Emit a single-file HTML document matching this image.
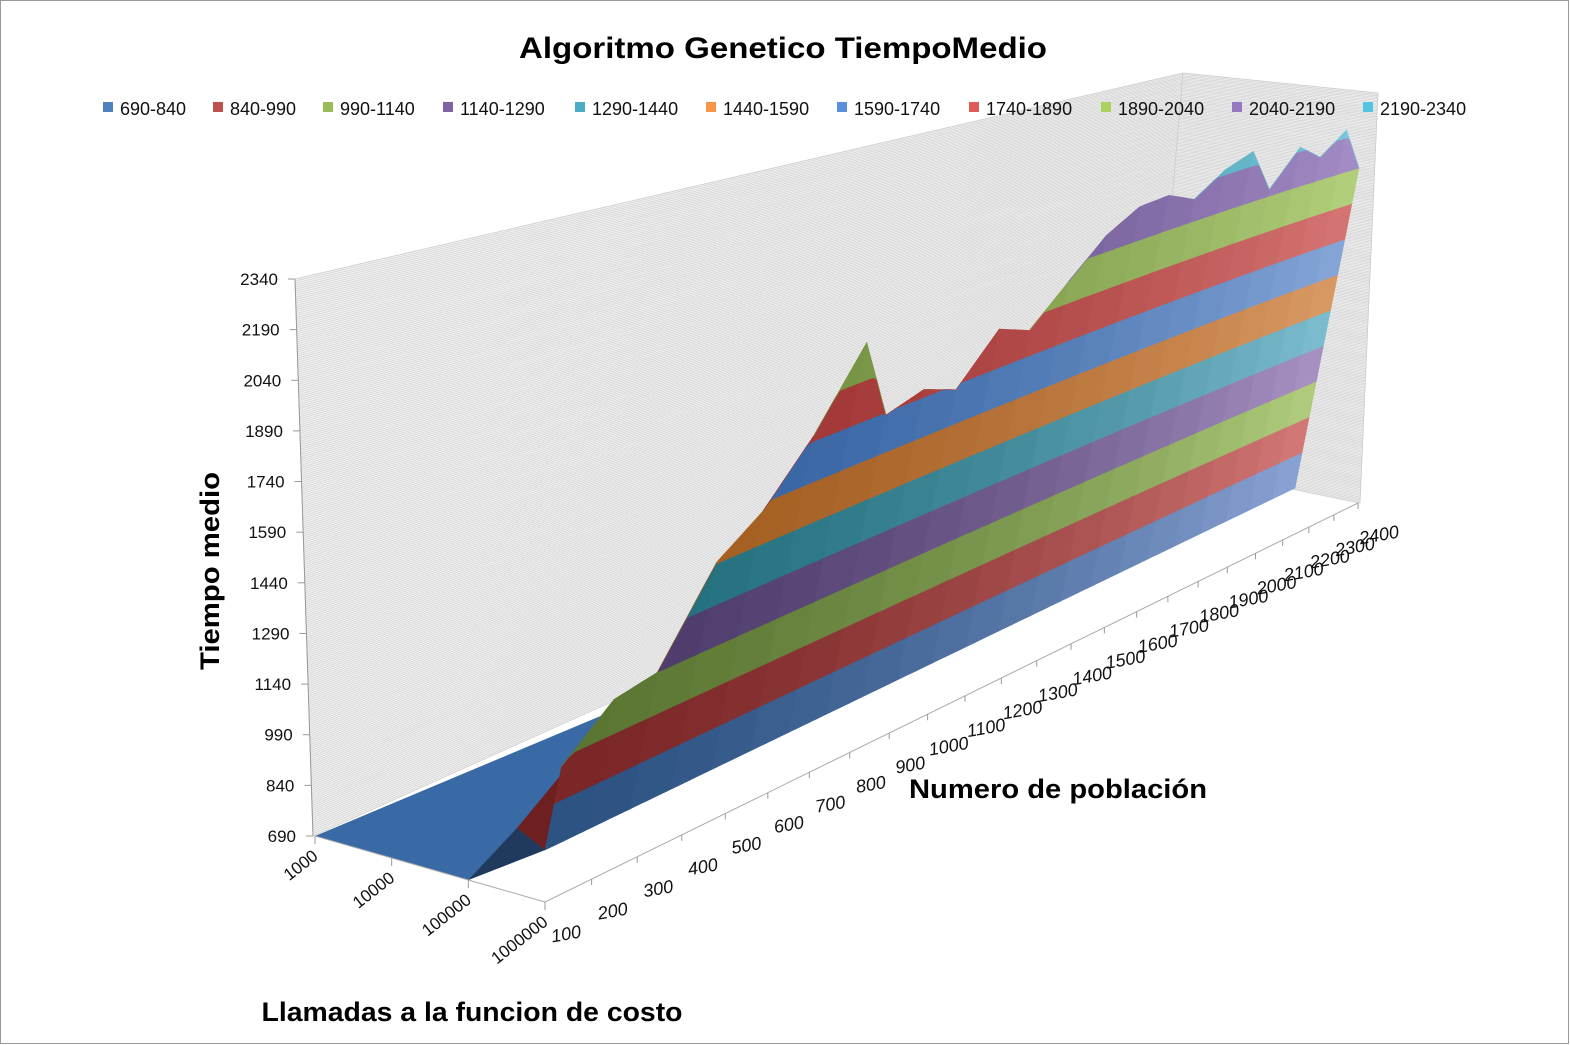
<!DOCTYPE html>
<html><head><meta charset="utf-8">
<style>
html,body{margin:0;padding:0;background:#fff;}
svg{display:block;font-family:"Liberation Sans",sans-serif;}
</style></head>
<body>
<svg id="chart" width="1570" height="1045" viewBox="0 0 1570 1045" xmlns="http://www.w3.org/2000/svg">
<rect x="0.5" y="0.5" width="1568" height="1043" fill="#fff" stroke="#9a9a9a"/>
<g id="walls"></g>
<g id="axes"></g>
<g id="surface"></g>
<text x="783" y="58" text-anchor="middle" font-size="30" font-weight="bold" textLength="528" lengthAdjust="spacingAndGlyphs">Algoritmo Genetico TiempoMedio</text>
<g id="legend"></g>
<text transform="translate(219,571) rotate(-90)" text-anchor="middle" font-size="27" font-weight="bold" textLength="198" lengthAdjust="spacingAndGlyphs">Tiempo medio</text>
<text x="1058" y="798" text-anchor="middle" font-size="27" font-weight="bold" textLength="298" lengthAdjust="spacingAndGlyphs">Numero de población</text>
<text x="472" y="1021" text-anchor="middle" font-size="27" font-weight="bold" textLength="421" lengthAdjust="spacingAndGlyphs">Llamadas a la funcion de costo</text>
</svg>
<script>
const populations = ["100","200","300","400","500","600","700","800","900","1000","1100","1200","1300","1400","1500","1600","1700","1800","1900","2000","2100","2200","2300","2400"];
const tiempoMedio = [960,1113,1140,1444,1560,1760,2030,1730,1770,1720,1890,1840,1975,2105,2175,2181,2130,2211,2251,2068,2209,2139,2225,2040];
const llamadas = ["1000","10000","100000","1000000"];
const valueTicks = [690,840,990,1140,1290,1440,1590,1740,1890,2040,2190,2340];
const legendLabels = ["690-840","840-990","990-1140","1140-1290","1290-1440","1440-1590","1590-1740","1740-1890","1890-2040","2040-2190","2190-2340"];
const legendColors = ["#4f81bd","#c0504d","#9bbb59","#8064a2","#4bacc6","#f79646","#5b8fd9","#e05a57","#a9d25f","#9478c0","#52c4df"];
const bandDark = ["#2c5282","#7a2626","#5a7532","#4a3868","#1f6c7a","#a05a1e","#2f5f9e","#9a2e2e","#6c8a3a","#5a4580","#2a8090"];
const bandLight = ["#8aa3d4","#d47a78","#b0cc7c","#a893c4","#7dbdd0","#da9a64","#86a6d8","#d67674","#b3d07c","#a58ec8","#7ccbe0"];

const NS = "http://www.w3.org/2000/svg";
const VMIN = 690, VMAX = 2340, N = populations.length;

function persp(t){ return 1.333*t - 0.333*t*t; }
function baseP(i){ const g = persp(i/(N-1)); return [545 + 750*g, 850 - 362*g]; }
function kz(i){ return 0.31 - 0.073*i/(N-1); }
function surfP(i, v){ const b = baseP(i); const h = (v - VMIN)*kz(i); return [b[0] + 0.2*h, b[1] - h]; }
function popTick(i){ const g = persp(i/(N-1)); return [545 + 813*g, 902 - 399*g]; }
function valP(v){ const f = (v - VMIN)/(VMAX - VMIN); return [313 - 18*f, 836 - 557*f]; }
function valR(v){ const f = (v - VMIN)/(VMAX - VMIN); return [1150 + 33*f, 460 - 387*f]; }
function depthP(j){ const f = j/(llamadas.length-1); return [315 + 230*f, 836 + 66*f]; }

function el(tag, attrs, parent){ const e = document.createElementNS(NS, tag); for (const k in attrs) e.setAttribute(k, attrs[k]); parent.appendChild(e); return e; }
function hex(c){ return [parseInt(c.slice(1,3),16),parseInt(c.slice(3,5),16),parseInt(c.slice(5,7),16)]; }
function mix(a,b,t){ const A=hex(a),B=hex(b); return "rgb("+A.map((x,k)=>Math.round(x+(B[k]-x)*t)).join(",")+")"; }
function pts(a){ return a.map(p=>p[0].toFixed(1)+","+p[1].toFixed(1)).join(" "); }

const walls = document.getElementById("walls");
const back = el("polygon", {points: pts([valP(VMAX), valR(VMAX), valR(VMIN), valP(VMIN)]), fill:"#f1f1f1", stroke:"#c8c8c8", "stroke-width":"0.8"}, walls);


const rightWall = el("polygon", {points: pts([valR(VMAX), [1378,93], [1360,503], valR(VMIN)]), fill:"#f1f1f1", stroke:"#c8c8c8", "stroke-width":"0.8"}, walls);


for (let v = VMIN; v <= VMAX; v += 6) {
  const a = valP(v), b = valR(v);
  const ln = el("line", {x1:a[0], y1:a[1], x2:b[0], y2:b[1], stroke:"#d2d2d2", "stroke-width":"0.7"}, walls);
  
  
  const f = (v - VMIN)/(VMAX - VMIN);
  const c = [1360 + 18*f, 503 - 410*f];
  const ln2 = el("line", {x1:b[0], y1:b[1], x2:c[0], y2:c[1], stroke:"#d2d2d2", "stroke-width":"0.7"}, walls);
  
  
}

const floor = el("polygon", {points: pts([depthP(0), depthP(2), [545,850], baseP(N-1), [1150,485]]), fill:"#3a6aa5"}, walls);


const darkTri = el("polygon", {points: pts([depthP(2), [545,850], [517,828]]), fill:"#1f3a5c"}, walls);


const redPiece = el("polygon", {points: pts([[517,828],[545,850],[575,785],[560,776]]), fill:"#6e2020"}, walls);



const axes = document.getElementById("axes");
const vAxis = el("line", {x1:valP(VMIN)[0], y1:valP(VMIN)[1], x2:valP(VMAX)[0], y2:valP(VMAX)[1], stroke:"#999", "stroke-width":"1"}, axes);


valueTicks.forEach(v => {
  const p = valP(v);
  const t = el("line", {x1:p[0]-7, y1:p[1], x2:p[0], y2:p[1], stroke:"#999"}, axes);
  
  
  const tx = el("text", {x:p[0]-17, y:p[1]+6, "text-anchor":"end", "font-size":"17", fill:"#111"}, axes);
  tx.textContent = v;
  
  
});
const pAxis = el("line", {x1:popTick(0)[0], y1:popTick(0)[1], x2:popTick(N-1)[0], y2:popTick(N-1)[1], stroke:"#aaa"}, axes);


populations.forEach((lab, i) => {
  const p = popTick(i);
  const t = el("line", {x1:p[0], y1:p[1], x2:p[0], y2:p[1]+6, stroke:"#999"}, axes);
  
  
  const cx = p[0]+21, cy = p[1]+32;
  const tx = el("text", {x:cx, y:cy+6, "text-anchor":"middle", "font-size":"18", "font-style":"italic", fill:"#111", transform:"rotate(-10 "+cx+" "+cy+")"}, axes);
  tx.textContent = lab;
  
  
});
const dAxis = el("line", {x1:depthP(0)[0], y1:depthP(0)[1], x2:depthP(3)[0], y2:depthP(3)[1], stroke:"#aaa"}, axes);


llamadas.forEach((lab, j) => {
  const p = depthP(j);
  const t = el("line", {x1:p[0], y1:p[1], x2:p[0], y2:p[1]+8, stroke:"#999"}, axes);
  
  
  const x = p[0]+4, y = p[1]+22;
  const tx = el("text", {x:x, y:y, "text-anchor":"end", "font-size":"17", fill:"#111", transform:"rotate(-38 "+x+" "+y+")"}, axes);
  tx.textContent = lab;
  
  
});

const surface = document.getElementById("surface");
const SUB = 8;
for (let i = 0; i < N-1; i++) {
  const tcol = Math.pow((i+0.5)/(N-1), 1.3);
  for (let b = 0; b < legendLabels.length; b++) {
    const lo = VMIN + 150*b, hi = lo + 150;
    if (Math.max(tiempoMedio[i], tiempoMedio[i+1]) <= lo) continue;
    const top = [], bot = [];
    for (let s = 0; s <= SUB; s++) {
      const u = i + s/SUB;
      const v = tiempoMedio[i] + (tiempoMedio[i+1]-tiempoMedio[i])*s/SUB;
      top.push(surfP(u, Math.min(v, hi)));
      bot.push(surfP(u, Math.min(v, lo)));
    }
    const col = mix(bandDark[b], bandLight[b], tcol);
    const poly = el("polygon", {points: pts(top.concat(bot.reverse())), fill: col, stroke: col, "stroke-width":"0.6"}, surface);
    
    
  }
}

const legend = document.getElementById("legend");
const legendX = [103,213,323,443,575,706,837,969,1101,1232,1363];
legendLabels.forEach((lab, k) => {
  const g = el("g", {}, legend);
  
  
  const r = el("rect", {x:legendX[k], y:102, width:10, height:10, fill:legendColors[k]}, g);
  
  
  const tx = el("text", {x:legendX[k]+17, y:115, "font-size":"18", fill:"#111"}, g);
  tx.textContent = lab;
  
  
});
</script>
</body></html>
